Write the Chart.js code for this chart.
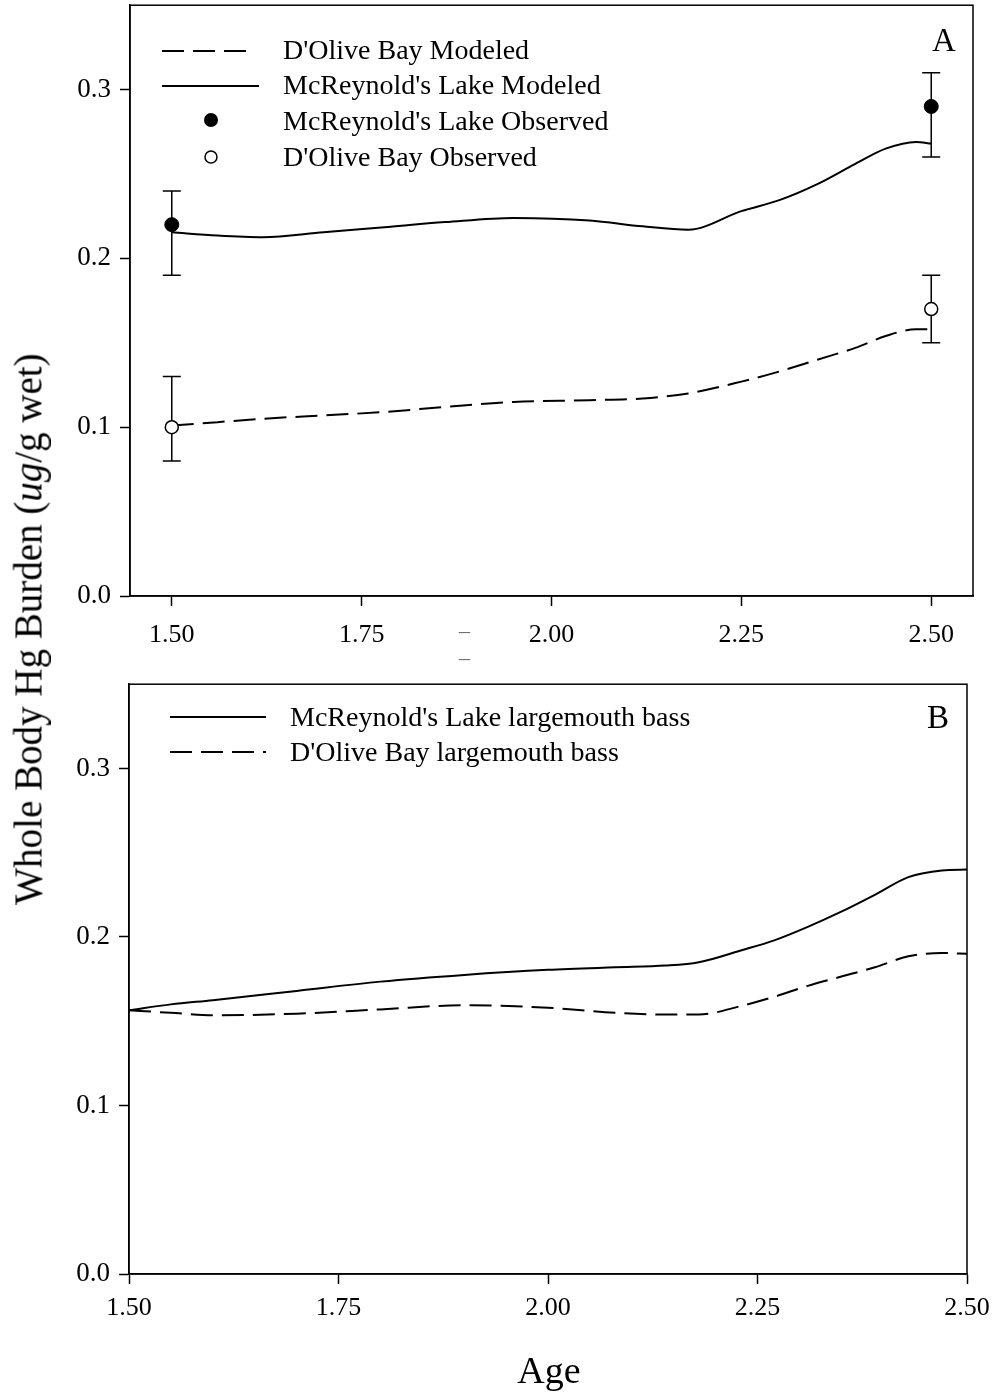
<!DOCTYPE html>
<html lang="en">
<head>
<meta charset="utf-8">
<title>Whole Body Hg Burden</title>
<script src="https://cdn.jsdelivr.net/npm/chart.js"></script>
<style>
	body { margin: 0; background: #fff; }
	.page {
		position: relative;
		width: 1001px;
		height: 1395px;
		overflow: hidden;
		font-family: "Liberation Serif", "Times New Roman", serif;
		color: #000;
	}
	.page canvas { position: absolute; left: 0; }
	#chartA { top: -20px; }
	#chartB { top: 659px; }
	.txt { position: absolute; white-space: nowrap; line-height: 1; }
	.leg { font-size: 28px; }
	.sample { position: absolute; }
	.ytitle {
		position: absolute;
		left: 28px;
		top: 629px;
		font-size: 39px;
		transform: translate(-50%, -50%) rotate(-90deg);
	}
	.stray { color: #666; font-size: 22px; }
</style>
</head>
<body>
<div class="page">
	<canvas id="chartA" width="1001" height="700"></canvas>
	<canvas id="chartB" width="1001" height="736"></canvas>

	<!-- panel A legend -->
	<svg class="sample" style="left:160px;top:41px" width="100" height="20">
		<line x1="2" y1="10" x2="88" y2="10" stroke="#000" stroke-width="2" stroke-dasharray="22,9"/>
	</svg>
	<svg class="sample" style="left:160px;top:76px" width="100" height="20">
		<line x1="2" y1="10" x2="99" y2="10" stroke="#000" stroke-width="2"/>
	</svg>
	<svg class="sample" style="left:201px;top:110px" width="20" height="20">
		<circle cx="10" cy="10" r="7" fill="#000"/>
	</svg>
	<svg class="sample" style="left:201px;top:147px" width="20" height="20">
		<circle cx="10" cy="10" r="6" fill="#fff" stroke="#000" stroke-width="1.5"/>
	</svg>
	<div class="txt leg" style="left:283px;top:36px">D'Olive Bay Modeled</div>
	<div class="txt leg" style="left:283px;top:71px">McReynold's Lake Modeled</div>
	<div class="txt leg" style="left:283px;top:107px">McReynold's Lake Observed</div>
	<div class="txt leg" style="left:283px;top:143px">D'Olive Bay Observed</div>
	<div class="txt" style="left:932px;top:24px;font-size:33px">A</div>

	<!-- panel B legend -->
	<svg class="sample" style="left:168px;top:707px" width="100" height="20">
		<line x1="2" y1="10" x2="98" y2="10" stroke="#000" stroke-width="2"/>
	</svg>
	<svg class="sample" style="left:168px;top:742px" width="100" height="20">
		<line x1="2" y1="10" x2="98" y2="10" stroke="#000" stroke-width="2" stroke-dasharray="22,9"/>
	</svg>
	<div class="txt leg" style="left:290px;top:703px">McReynold's Lake largemouth bass</div>
	<div class="txt leg" style="left:290px;top:738px">D'Olive Bay largemouth bass</div>
	<div class="txt" style="left:927px;top:701px;font-size:33px">B</div>

	<div class="txt stray" style="left:459px;top:620px">–</div>
	<div class="txt stray" style="left:459px;top:647px">–</div>

	<div class="txt ytitle">Whole Body Hg Burden (<i>ug</i>/g wet)</div>
	<div class="txt" style="left:549px;top:1370px;font-size:38px;transform:translate(-50%,-50%)">Age</div>
</div>

<script>
	// panel A: modeled curves
	const agesA = [1.50, 1.56, 1.62, 1.70, 1.78, 1.86, 1.95, 2.05, 2.12, 2.18, 2.25, 2.30, 2.35, 2.40, 2.44, 2.48, 2.50];
	const mcModeledA = [0.2155, 0.2135, 0.2125, 0.2155, 0.2185, 0.2215, 0.2240, 0.2225, 0.2190, 0.2170, 0.2280, 0.2345, 0.2440, 0.2560, 0.2650, 0.2690, 0.2680];
	const dbModeledA = [0.101, 0.103, 0.105, 0.107, 0.109, 0.112, 0.115, 0.116, 0.117, 0.120, 0.127, 0.133, 0.140, 0.147, 0.154, 0.158, 0.158];

	// panel A: observed means with error bars
	const obsAges = [1.50, 2.50];
	const mcObserved = [0.22, 0.29];
	const mcLow = [0.19, 0.26];
	const mcHigh = [0.24, 0.31];
	const dbObserved = [0.10, 0.17];
	const dbLow = [0.08, 0.15];
	const dbHigh = [0.13, 0.19];

	// panel B: largemouth bass curves
	const agesB = [1.50, 1.55, 1.60, 1.70, 1.80, 1.90, 2.00, 2.08, 2.14, 2.18, 2.23, 2.27, 2.31, 2.35, 2.39, 2.43, 2.47, 2.50];
	const mcBass = [0.1565, 0.1600, 0.1625, 0.1680, 0.1735, 0.1775, 0.1805, 0.1820, 0.1830, 0.1850, 0.1920, 0.1980, 0.2060, 0.2150, 0.2250, 0.2355, 0.2395, 0.2400];
	const dbBass = [0.1565, 0.1550, 0.1535, 0.1545, 0.1570, 0.1595, 0.1580, 0.1550, 0.1540, 0.1540, 0.1590, 0.1645, 0.1710, 0.1765, 0.1820, 0.1885, 0.1905, 0.1900];

	const xTicks = [1.50, 1.75, 2.00, 2.25, 2.50];
	const yTicks = [0.0, 0.1, 0.2, 0.3];

	const FONT = "'Liberation Serif', 'Times New Roman', serif";
	const pts = (xs, ys) => xs.map((x, i) => ({ x: x, y: ys[i] }));

	// box round the plot area
	const frame = {
		id: 'frame',
		beforeDatasetsDraw(chart) {
			const a = chart.chartArea, ctx = chart.ctx;
			ctx.save();
			ctx.strokeStyle = '#000';
			ctx.lineWidth = 1.5;
			ctx.strokeRect(a.left, a.top, a.right - a.left, a.bottom - a.top);
			ctx.restore();
		}
	};

	// vertical error bars with caps
	const errorBars = {
		id: 'errorBars',
		beforeDatasetsDraw(chart, args, opts) {
			if (!opts.sets) return;
			const ctx = chart.ctx, x = chart.scales.x, y = chart.scales.y;
			ctx.save();
			ctx.strokeStyle = '#000';
			ctx.lineWidth = 1.5;
			opts.sets.forEach(s => {
				s.x.forEach((v, i) => {
					const px = x.getPixelForValue(v);
					const lo = y.getPixelForValue(s.lo[i]);
					const hi = y.getPixelForValue(s.hi[i]);
					ctx.beginPath();
					ctx.moveTo(px, lo); ctx.lineTo(px, hi);
					ctx.moveTo(px - 9, lo); ctx.lineTo(px + 9, lo);
					ctx.moveTo(px - 9, hi); ctx.lineTo(px + 9, hi);
					ctx.stroke();
				});
			});
			ctx.restore();
		}
	};

	function curve(data, dashed) {
		return {
			type: 'line',
			data: data,
			borderColor: '#000',
			borderWidth: 2,
			borderDash: dashed ? [22, 9] : [],
			pointRadius: 0,
			fill: false,
			cubicInterpolationMode: 'monotone'
		};
	}

	function scales(xmin, xmax, sizes) {
		return {
			x: {
				type: 'linear',
				min: xmin,
				max: xmax,
				afterBuildTicks: s => { s.ticks = xTicks.map(v => ({ value: v })); },
				afterFit: s => { s.height = sizes.xh; },
				grid: { drawOnChartArea: false, drawTicks: true, tickLength: 10, tickWidth: 1.5, color: '#000' },
				border: { display: true, color: '#000', width: 1.5 },
				ticks: { color: '#000', padding: sizes.xpad, maxRotation: 0, font: { family: FONT, size: 26 }, callback: v => v.toFixed(2) }
			},
			y: {
				type: 'linear',
				min: 0,
				max: 0.35,
				afterBuildTicks: s => { s.ticks = yTicks.map(v => ({ value: v })); },
				afterFit: s => { s.width = sizes.yw; },
				grid: { drawOnChartArea: false, drawTicks: true, tickLength: 10, tickWidth: 1.5, color: '#000' },
				border: { display: true, color: '#000', width: 1.5 },
				ticks: { color: '#000', padding: 9, font: { family: FONT, size: 27 }, callback: v => v.toFixed(1) }
			}
		};
	}

	new Chart(document.getElementById('chartA'), {
		type: 'scatter',
		data: {
			datasets: [
				{ data: pts(obsAges, mcObserved), pointRadius: 7, pointBackgroundColor: '#000', pointBorderColor: '#000', pointBorderWidth: 1, showLine: false },
				{ data: pts(obsAges, dbObserved), pointRadius: 6.5, pointBackgroundColor: '#fff', pointBorderColor: '#000', pointBorderWidth: 1.5, showLine: false },
				curve(pts(agesA, mcModeledA), false),
				curve(pts(agesA, dbModeledA), true)
			]
		},
		options: {
			responsive: false,
			animation: false,
			layout: { padding: { top: 4, right: 28, left: 0, bottom: 0 } },
			scales: scales(1.445, 2.555, { xh: 84, yw: 130, xpad: 14 }),
			plugins: {
				legend: { display: false },
				tooltip: { enabled: false },
				errorBars: {
					sets: [
						{ x: obsAges, lo: mcLow, hi: mcHigh },
						{ x: obsAges, lo: dbLow, hi: dbHigh }
					]
				}
			}
		},
		plugins: [frame, errorBars]
	});

	new Chart(document.getElementById('chartB'), {
		type: 'scatter',
		data: {
			datasets: [
				curve(pts(agesB, mcBass), false),
				curve(pts(agesB, dbBass), true)
			]
		},
		options: {
			responsive: false,
			animation: false,
			layout: { padding: { top: 11, right: 34, left: 0, bottom: 0 } },
			scales: scales(1.50, 2.50, { xh: 121, yw: 129, xpad: 9 }),
			plugins: {
				legend: { display: false },
				tooltip: { enabled: false }
			}
		},
		plugins: [frame]
	});
</script>
</body>
</html>
